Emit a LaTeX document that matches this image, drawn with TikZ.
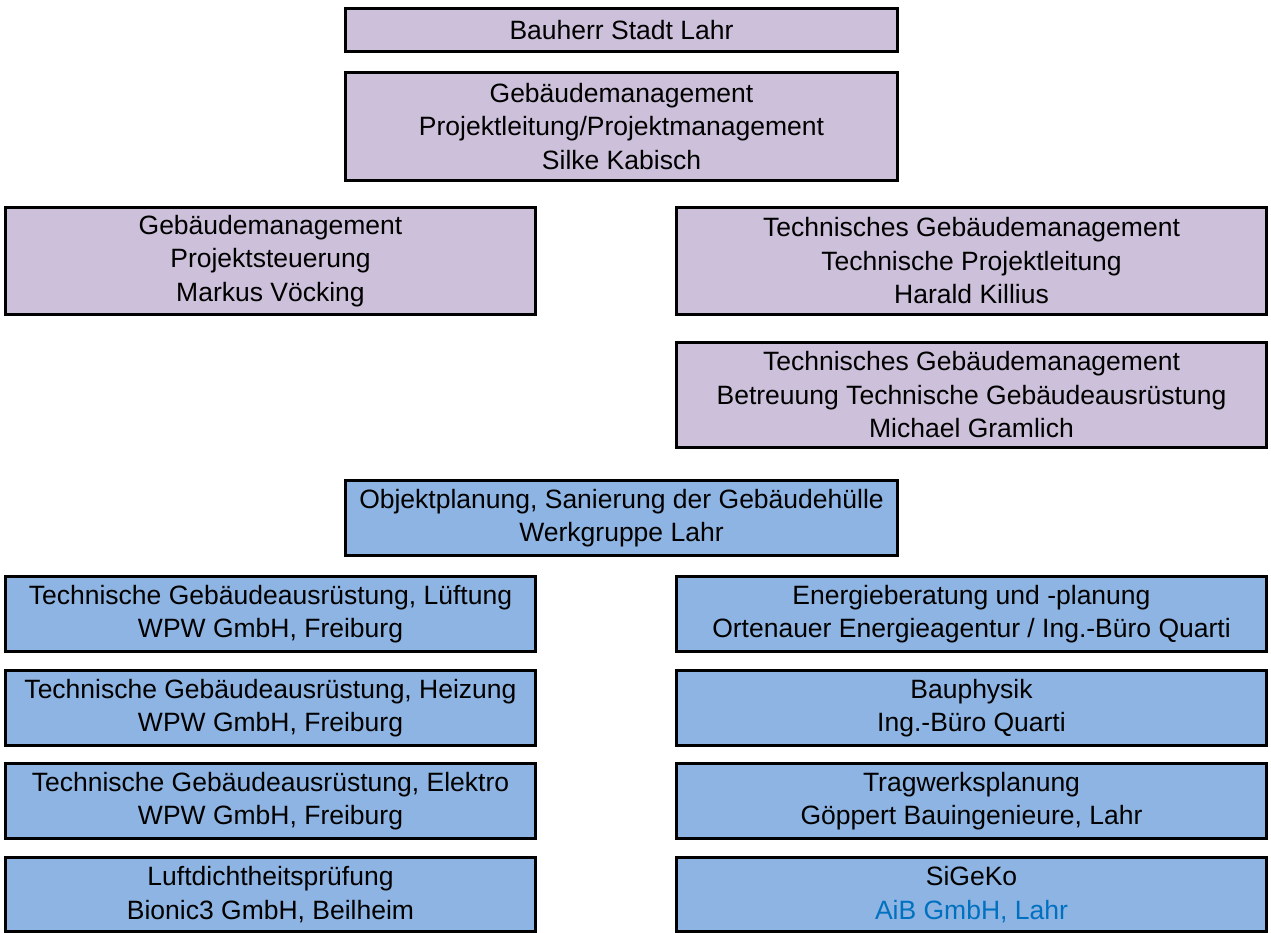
\documentclass[tikz,border=0pt]{standalone}
\usepackage{fontspec}
\setmainfont{Liberation Sans}
\definecolor{lila}{HTML}{CCC0DA}
\definecolor{hellblau}{HTML}{8DB4E2}
\definecolor{textblau}{HTML}{0070C0}
\tikzset{
  box/.style={draw=black, line width=3pt, rectangle, align=center, inner sep=0pt,
    font=\fontsize{26.5}{33.5}\selectfont},
  stadt/.style={box, fill=lila},
  planer/.style={box, fill=hellblau},
  links/.style={minimum width=530pt},
  rechts/.style={minimum width=590pt},
  mitte/.style={minimum width=552pt}
}
\begin{document}
\begin{tikzpicture}[x=1pt, y=-1pt]
    \useasboundingbox (0,0) rectangle (1271,933);

    % Stadt Lahr
    \node[stadt, mitte, minimum height=43pt] (bauherr) at (621.5,30) {Bauherr Stadt Lahr};
    \node[stadt, mitte, minimum height=108pt] (leitung) at (621.5,126.5)
      {Gebäudemanagement\\Projektleitung/Projektmanagement\\Silke Kabisch};
    \node[stadt, links, minimum height=107pt] (steuerung) at (270.5,261)
      {Gebäudemanagement\\Projektsteuerung\\Markus Vöcking};
    \node[stadt, rechts, minimum height=107pt] (technik) at (971.5,261)
      {Technisches Gebäudemanagement\\Technische Projektleitung\\Harald Killius};
    \node[stadt, rechts, minimum height=105pt] (tga) at (971.5,395)
      {Technisches Gebäudemanagement\\Betreuung Technische Gebäudeausrüstung\\Michael Gramlich};

    % Planer
    \node[planer, mitte, minimum height=75pt] (objekt) at (621.5,518)
      {Objektplanung, Sanierung der Gebäudehülle\\Werkgruppe Lahr};
    \node[planer, links, minimum height=75pt] (lueftung) at (270.5,614)
      {Technische Gebäudeausrüstung, Lüftung\\WPW GmbH, Freiburg};
    \node[planer, links, minimum height=75pt] (heizung) at (270.5,708)
      {Technische Gebäudeausrüstung, Heizung\\WPW GmbH, Freiburg};
    \node[planer, links, minimum height=75pt] (elektro) at (270.5,801)
      {Technische Gebäudeausrüstung, Elektro\\WPW GmbH, Freiburg};
    \node[planer, links, minimum height=74pt] (luftdicht) at (270.5,894.5)
      {Luftdichtheitsprüfung\\Bionic3 GmbH, Beilheim};
    \node[planer, rechts, minimum height=75pt] (energie) at (971.5,614)
      {Energieberatung und -planung\\Ortenauer Energieagentur / Ing.-Büro Quarti};
    \node[planer, rechts, minimum height=75pt] (bauphysik) at (971.5,708)
      {Bauphysik\\Ing.-Büro Quarti};
    \node[planer, rechts, minimum height=75pt] (tragwerk) at (971.5,801)
      {Tragwerksplanung\\Göppert Bauingenieure, Lahr};
    \node[planer, rechts, minimum height=74pt] (sigeko) at (971.5,894.5)
      {SiGeKo\\\textcolor{textblau}{AiB GmbH, Lahr}};
\end{tikzpicture}
\end{document}
